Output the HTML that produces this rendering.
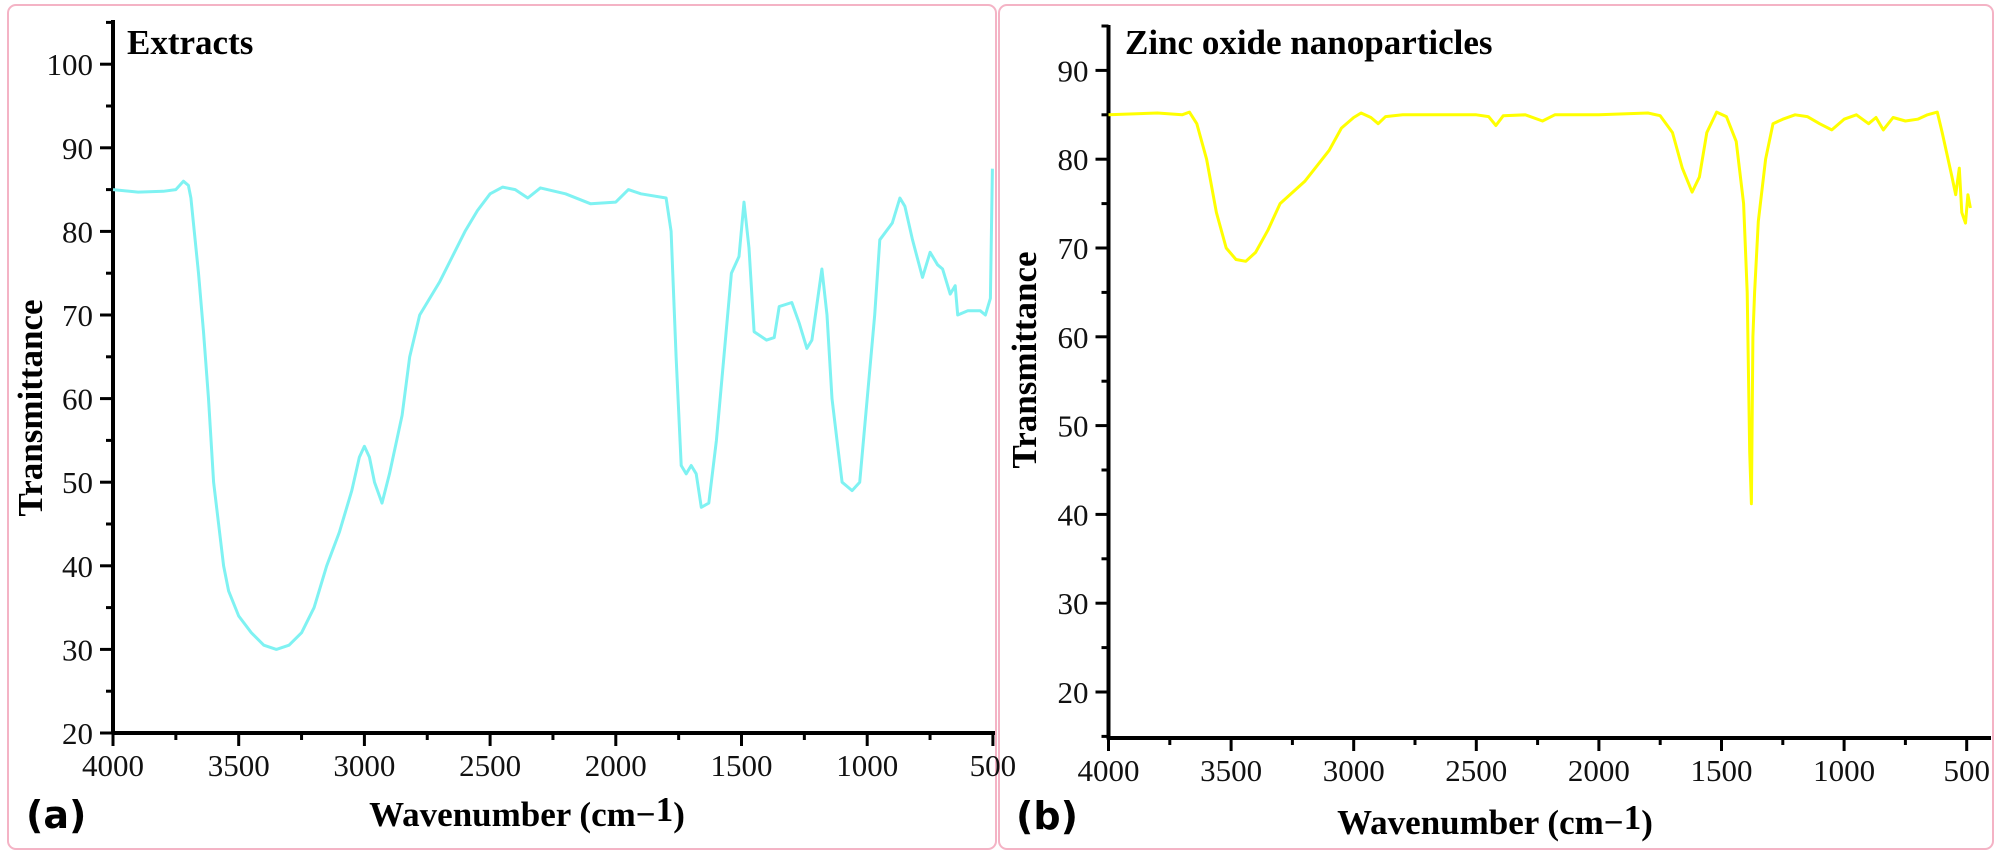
<!DOCTYPE html>
<html><head><meta charset="utf-8"><style>
html,body{margin:0;padding:0;background:#fff;}
svg{display:block;}
.tk{font-family:"Liberation Serif",serif;font-size:31px;fill:#111;}
.tt{font-family:"Liberation Serif",serif;font-size:35px;font-weight:bold;fill:#000;}
.pl{font-family:"DejaVu Sans","Liberation Sans",sans-serif;font-size:38px;font-weight:bold;fill:#000;}
</style></head><body>
<svg id="c" width="2000" height="857" viewBox="0 0 2000 857" xmlns="http://www.w3.org/2000/svg">
<rect x="8" y="5" width="988" height="844" rx="8" fill="none" stroke="#f4b3c5" stroke-width="2"/>
<rect x="999" y="5" width="994" height="844" rx="8" fill="none" stroke="#f4b3c5" stroke-width="2"/>
<text class="tt" x="127" y="54">Extracts</text>
<text class="tt" x="1125" y="54">Zinc oxide nanoparticles</text>
<text class="tt" x="0" y="0" text-anchor="middle" transform="translate(42,408) rotate(-90)">Transmittance</text>
<text class="tt" x="0" y="0" text-anchor="middle" transform="translate(1036,360) rotate(-90)">Transmittance</text>
<text class="tt" x="527" y="826" text-anchor="middle">Wavenumber (cm−<tspan dy="-5">1</tspan><tspan dy="5">)</tspan></text>
<text class="tt" x="1495" y="834" text-anchor="middle">Wavenumber (cm−<tspan dy="-5">1</tspan><tspan dy="5">)</tspan></text>
<text class="pl" x="26" y="828">(a)</text>
<text class="pl" x="1016" y="829">(b)</text>
<g id="ga"></g>
<g id="gb"></g>
</svg>
<script>
const extractWave = [4000,3900,3800,3750,3720,3700,3690,3660,3640,3620,3600,3580,3560,3540,3500,3450,3400,3350,3300,3250,3200,3150,3100,3050,3020,3000,2980,2960,2930,2900,2850,2820,2780,2700,2650,2600,2550,2500,2450,2400,2350,2300,2200,2100,2000,1950,1900,1800,1780,1760,1740,1720,1700,1680,1660,1630,1600,1570,1540,1510,1490,1470,1450,1400,1370,1350,1300,1270,1240,1220,1180,1160,1140,1120,1100,1060,1030,1000,970,950,900,870,850,820,780,750,720,700,670,650,640,600,550,530,510,502];
const extractT = [85,84.7,84.8,85,86,85.5,84,75,68,60,50,45,40,37,34,32,30.5,30,30.5,32,35,40,44,49,53,54.3,53,50,47.5,51,58,65,70,74,77,80,82.5,84.5,85.3,85,84,85.2,84.5,83.3,83.5,85,84.5,84,80,65,52,51,52,51,47,47.5,55,65,75,77,83.5,78,68,67,67.3,71,71.5,69,66,67,75.5,70,60,55,50,49,50,60,70,79,81,84,83,79,74.5,77.5,76,75.5,72.5,73.5,70,70.5,70.5,70,72,87.5];
const znoWave = [4000,3800,3700,3670,3640,3600,3560,3520,3480,3440,3400,3350,3300,3200,3100,3050,3000,2970,2930,2900,2870,2800,2700,2500,2450,2420,2390,2300,2230,2180,2000,1800,1750,1700,1660,1620,1590,1560,1520,1480,1440,1410,1395,1385,1378,1372,1365,1350,1320,1290,1250,1200,1150,1100,1050,1000,950,900,870,840,800,750,700,660,620,600,580,560,545,530,520,505,495,485];
const znoT = [85,85.2,85,85.3,84,80,74,70,68.7,68.5,69.5,72,75,77.5,81,83.5,84.7,85.2,84.7,84,84.8,85,85,85,84.8,83.8,84.9,85,84.3,85,85,85.2,84.9,83,79,76.3,78,83,85.3,84.8,82,75,65,47,41.2,60,65,73,80,84,84.5,85,84.8,84,83.3,84.5,85,84,84.7,83.3,84.7,84.3,84.5,85,85.3,83,80.5,78,76,79,74,72.8,76,74.5];
const xTicks = [4000,3500,3000,2500,2000,1500,1000,500];
const yTicksA = [20,30,40,50,60,70,80,90,100];
const yTicksB = [20,30,40,50,60,70,80,90];

const NS='http://www.w3.org/2000/svg';
function mk(tag,attrs,parent){const e=document.createElementNS(NS,tag);for(const k in attrs)e.setAttribute(k,attrs[k]);parent.appendChild(e);return e;}

function drawPanel(g,cfg,waves,vals,color,yTicks,prefix){
  const X=v=>cfg.x0+(4000-v)/500*cfg.px500;
  const Y=t=>cfg.y20-(t-20)*cfg.py10/10;
  // axes
  const ya=mk('line',{x1:cfg.x0,y1:cfg.yTop,x2:cfg.x0,y2:cfg.yBot+1.5,stroke:'#000','stroke-width':4},g);
  
  
  const xa=mk('line',{x1:cfg.x0-1.5,y1:cfg.yBot,x2:cfg.xEnd,y2:cfg.yBot,stroke:'#000','stroke-width':4},g);
  
  
  // y ticks
  for(let t=cfg.yMin;t<=cfg.yMax+0.01;t+=5){
    const y=Y(t); const major=(t%10===0);
    const tk=mk('line',{x1:cfg.x0-(major?13:7),y1:y,x2:cfg.x0,y2:y,stroke:'#000','stroke-width':3},g);
    
    
  }
  yTicks.forEach(t=>{
    const tx=mk('text',{x:cfg.x0-20,y:Y(t)+11,'text-anchor':'end',class:'tk'},g);
    tx.textContent=t;
    
    
  });
  // x ticks
  for(let v=4000;v>=cfg.xMinVal-0.01;v-=250){
    const x=X(v); const major=(v%500===0);
    const tk=mk('line',{x1:x,y1:cfg.yBot,x2:x,y2:cfg.yBot+(major?13:7),stroke:'#000','stroke-width':3},g);
    
    
  }
  xTicks.forEach(v=>{
    const tx=mk('text',{x:X(v),y:cfg.yBot+43,'text-anchor':'middle',class:'tk'},g);
    tx.textContent=v;
    
    
  });
  // series
  const d=waves.map((w,i)=>(i?'L':'M')+X(w).toFixed(1)+','+Y(vals[i]).toFixed(1)).join(' ');
  const p=mk('path',{d:d,fill:'none',stroke:color,'stroke-width':3,'stroke-linejoin':'round'},g);
  
  
}
drawPanel(document.getElementById('ga'),{x0:113,px500:125.7,y20:733,py10:83.6,yTop:20,yBot:733,xEnd:995,yMin:20,yMax:105,xMinVal:500},extractWave,extractT,'#7ff2f2',yTicksA,'panel-a');
drawPanel(document.getElementById('gb'),{x0:1108.5,px500:122.6,y20:692,py10:88.8,yTop:25,yBot:738,xEnd:1991,yMin:15,yMax:95,xMinVal:500},znoWave,znoT,'#ffff00',yTicksB,'panel-b');
</script>
</body></html>
